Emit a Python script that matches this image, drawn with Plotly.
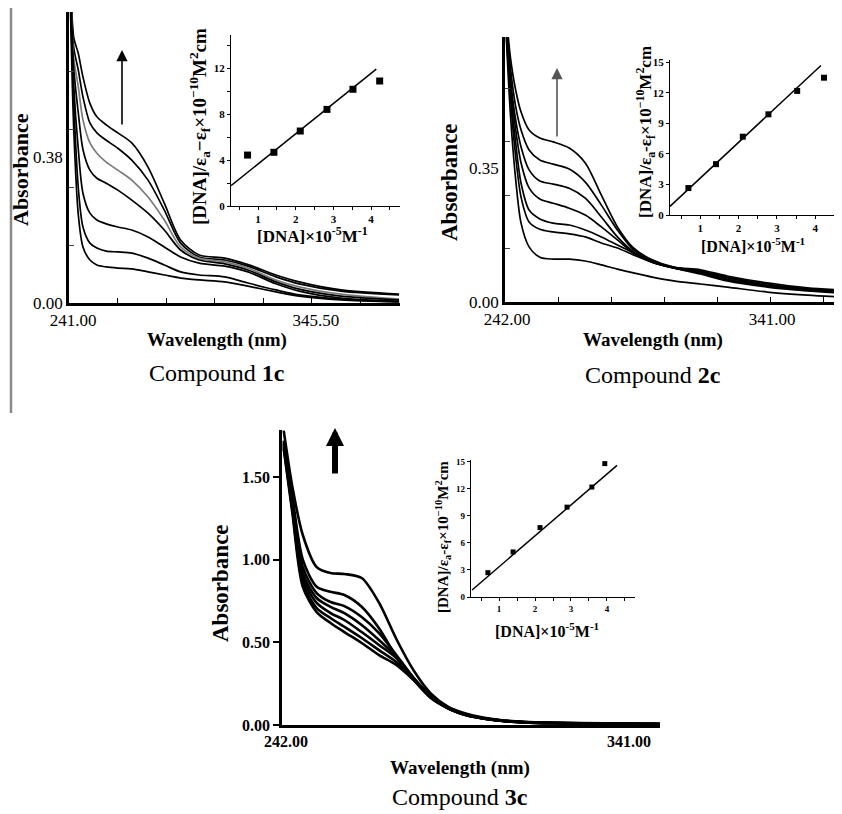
# UV-vis absorption titration spectra of compounds 1c, 2c, 3c with DNA,
# each with an inset of [DNA]/(ea-ef) against [DNA]
import plotly.graph_objects as go

W, H = 842, 814
OFF = 8  # the page body adds an 8px margin around the figure
SERIF = "Liberation Serif"

# ---- Compound 1c ----
wl_1c = [241.5, 243, 245, 247, 250, 253, 257, 262, 268, 275, 282, 289, 297, 308, 318, 330, 340, 358, 383]
abs_1c = [
    [0.92, 0.693, 0.65, 0.589, 0.52, 0.485, 0.464, 0.443, 0.417, 0.354, 0.26, 0.164, 0.125, 0.117, 0.10, 0.073, 0.055, 0.034, 0.023],
    [0.90, 0.667, 0.607, 0.537, 0.469, 0.443, 0.424, 0.403, 0.372, 0.32, 0.242, 0.156, 0.12, 0.112, 0.096, 0.068, 0.05, 0.031, 0.021],
    [0.88, 0.64, 0.563, 0.477, 0.417, 0.39, 0.367, 0.346, 0.32, 0.276, 0.216, 0.146, 0.117, 0.107, 0.091, 0.06, 0.042, 0.023, 0.01],
    [0.86, 0.615, 0.495, 0.40, 0.346, 0.325, 0.312, 0.294, 0.268, 0.234, 0.19, 0.138, 0.112, 0.102, 0.086, 0.055, 0.036, 0.018, 0.008],
    [0.84, 0.57, 0.40, 0.286, 0.234, 0.216, 0.206, 0.198, 0.19, 0.172, 0.146, 0.12, 0.104, 0.096, 0.081, 0.05, 0.031, 0.013, 0.005],
    [0.82, 0.53, 0.30, 0.198, 0.156, 0.143, 0.135, 0.133, 0.13, 0.117, 0.099, 0.081, 0.073, 0.068, 0.052, 0.034, 0.021, 0.01, 0.003],
    [0.80, 0.46, 0.23, 0.146, 0.112, 0.099, 0.094, 0.091, 0.089, 0.081, 0.073, 0.065, 0.06, 0.055, 0.044, 0.029, 0.018, 0.008, 0.003],
]
colors_1c = ["black", "black", "#7a7a7a", "black", "black", "black", "black"]
conc_1c = [0.72, 1.42, 2.12, 2.83, 3.52, 4.23]
ratio_1c = [4.43, 4.67, 6.52, 8.4, 10.15, 10.87]
fit_1c_x = [0.28, 4.14]
fit_1c_y = [1.77, 11.9]

# ---- Compound 2c ----
wl_2c = [242.5, 244, 246, 248, 251, 255, 260, 266, 272, 278, 284, 290, 297, 305, 315, 325, 340, 355, 368]
abs_2c = [
    [0.75, 0.64, 0.553, 0.496, 0.449, 0.428, 0.418, 0.402, 0.363, 0.279, 0.196, 0.141, 0.110, 0.091, 0.084, 0.068, 0.05, 0.037, 0.031],
    [0.74, 0.614, 0.51, 0.449, 0.397, 0.371, 0.36, 0.347, 0.313, 0.253, 0.188, 0.136, 0.107, 0.091, 0.081, 0.065, 0.047, 0.034, 0.029],
    [0.73, 0.587, 0.475, 0.405, 0.345, 0.316, 0.308, 0.297, 0.271, 0.222, 0.17, 0.131, 0.104, 0.089, 0.078, 0.063, 0.044, 0.034, 0.029],
    [0.72, 0.571, 0.449, 0.363, 0.298, 0.269, 0.258, 0.245, 0.227, 0.196, 0.162, 0.128, 0.104, 0.089, 0.078, 0.06, 0.042, 0.031, 0.026],
    [0.71, 0.553, 0.415, 0.31, 0.24, 0.217, 0.206, 0.201, 0.188, 0.17, 0.149, 0.128, 0.104, 0.089, 0.076, 0.057, 0.042, 0.031, 0.026],
    [0.70, 0.535, 0.379, 0.274, 0.209, 0.19, 0.183, 0.178, 0.17, 0.154, 0.141, 0.123, 0.104, 0.089, 0.073, 0.055, 0.039, 0.029, 0.023],
    [0.69, 0.493, 0.319, 0.206, 0.144, 0.117, 0.112, 0.112, 0.107, 0.097, 0.086, 0.076, 0.065, 0.055, 0.047, 0.039, 0.026, 0.018, 0.013],
]
conc_2c = [0.69, 1.41, 2.11, 2.78, 3.53, 4.23]
ratio_2c = [2.65, 5.0, 7.7, 9.9, 12.2, 13.5]
fit_2c_x = [0.21, 4.15]
fit_2c_y = [0.85, 14.7]

# ---- Compound 3c ----
wl_3c = [242.5, 245, 248, 252, 256, 260, 265, 270, 275, 280, 285, 290, 295, 300, 305, 312, 320, 335, 351]
abs_3c = [
    [1.78, 1.44, 1.149, 0.955, 0.919, 0.913, 0.889, 0.74, 0.52, 0.33, 0.19, 0.11, 0.07, 0.045, 0.03, 0.02, 0.015, 0.01, 0.008],
    [1.72, 1.38, 1.0, 0.836, 0.806, 0.786, 0.715, 0.585, 0.413, 0.272, 0.163, 0.103, 0.065, 0.042, 0.028, 0.018, 0.013, 0.008, 0.006],
    [1.71, 1.36, 0.955, 0.798, 0.744, 0.719, 0.653, 0.556, 0.423, 0.284, 0.163, 0.1, 0.063, 0.04, 0.027, 0.017, 0.012, 0.008, 0.006],
    [1.70, 1.34, 0.918, 0.768, 0.715, 0.676, 0.605, 0.514, 0.413, 0.284, 0.169, 0.1, 0.062, 0.04, 0.027, 0.017, 0.012, 0.008, 0.006],
    [1.69, 1.32, 0.889, 0.738, 0.677, 0.635, 0.562, 0.484, 0.405, 0.284, 0.175, 0.1, 0.06, 0.04, 0.026, 0.016, 0.012, 0.008, 0.006],
    [1.68, 1.30, 0.859, 0.707, 0.647, 0.594, 0.526, 0.453, 0.381, 0.278, 0.175, 0.1, 0.06, 0.04, 0.026, 0.016, 0.011, 0.008, 0.006],
    [1.67, 1.28, 0.836, 0.683, 0.617, 0.562, 0.496, 0.423, 0.363, 0.272, 0.175, 0.1, 0.06, 0.04, 0.026, 0.016, 0.011, 0.008, 0.006],
]
conc_3c = [0.69, 1.39, 2.14, 2.89, 3.58, 3.94]
ratio_3c = [2.7, 5.0, 7.7, 9.97, 12.2, 14.8]
fit_3c_x = [0.25, 4.28]
fit_3c_y = [0.78, 14.6]


def px(x):
    return (x - OFF) / W


def py(y):
    return 1 - (y - OFF) / H


fig = go.Figure()

# spectra
for curve, col in zip(abs_1c, colors_1c):
    fig.add_trace(go.Scatter(x=wl_1c, y=curve, mode="lines", xaxis="x", yaxis="y",
                             line=dict(color=col, width=1.7, shape="spline", smoothing=0.8)))
for curve in abs_2c:
    fig.add_trace(go.Scatter(x=wl_2c, y=curve, mode="lines", xaxis="x3", yaxis="y3",
                             line=dict(color="black", width=1.7, shape="spline", smoothing=0.8)))
for curve in abs_3c:
    fig.add_trace(go.Scatter(x=wl_3c, y=curve, mode="lines", xaxis="x5", yaxis="y5",
                             line=dict(color="black", width=2.6, shape="spline", smoothing=0.8)))

# insets
for cx, cy, fx, fy, xa, ya, ms in [(conc_1c, ratio_1c, fit_1c_x, fit_1c_y, "x2", "y2", 7),
                                   (conc_2c, ratio_2c, fit_2c_x, fit_2c_y, "x4", "y4", 6),
                                   (conc_3c, ratio_3c, fit_3c_x, fit_3c_y, "x6", "y6", 5)]:
    fig.add_trace(go.Scatter(x=fx, y=fy, mode="lines", xaxis=xa, yaxis=ya,
                             line=dict(color="black", width=1.5)))
    fig.add_trace(go.Scatter(x=cx, y=cy, mode="markers", xaxis=xa, yaxis=ya,
                             marker=dict(symbol="square", size=ms, color="black")))

main_font = dict(family=SERIF, size=17, color="black")
ins_font = dict(family=SERIF, size=11, color="black", weight="bold")

main_ax = dict(showline=True, linecolor="black", linewidth=2.5, showgrid=False,
               zeroline=False, tickfont=main_font, automargin=False, tickcolor="black")
ins_ax = dict(showline=True, linecolor="black", linewidth=1.3, showgrid=False,
              zeroline=False, tickfont=ins_font, ticks="outside", ticklen=3,
              tickwidth=1, tickcolor="black", automargin=False)

fig.update_layout(
    template="none",
    width=W, height=H,
    margin=dict(l=0, r=0, t=0, b=0),
    paper_bgcolor="white", plot_bgcolor="rgba(0,0,0,0)",
    showlegend=False,
    # 1c main
    xaxis=dict(main_ax, domain=[px(69), px(400)], range=[241, 383.4], anchor="y",
               tickvals=[241, 345.5], ticktext=["241.00", "345.50"], ticklabelshift=4,
               ticks="inside", ticklen=5, tickwidth=1.2,
               minor=dict(tick0=241, dtick=20.9, ticks="inside", ticklen=5, tickwidth=1.2)),
    yaxis=dict(main_ax, domain=[py(303), py(12)], range=[0, 0.758], anchor="x",
               tickvals=[0, 0.38], ticktext=["0.00", "0.38"], ticks="",
               minor=dict(tickvals=[0.151, 0.302, 0.453, 0.604], ticks="inside",
                          ticklen=5, tickwidth=1.2)),
    # 1c inset
    xaxis2=dict(ins_ax, domain=[px(231), px(400)], range=[0.28, 4.77], anchor="y2",
                tickvals=[1, 2, 3, 4], minor=dict(dtick=0.5, ticks="outside", ticklen=3)),
    yaxis2=dict(ins_ax, domain=[py(206), py(35)], range=[0, 14.87], anchor="x2",
                tickvals=[0, 4, 8, 12], minor=dict(dtick=2, ticks="outside", ticklen=3)),
    # 2c main
    xaxis3=dict(main_ax, domain=[px(505), px(842)], range=[242, 367.9], anchor="y3",
                tickvals=[242, 341], ticktext=["242.00", "341.00"], ticklabelshift=2,
                ticks="inside", ticklen=5, tickwidth=1.2,
                minor=dict(tick0=242, dtick=19.8, ticks="inside", ticklen=5, tickwidth=1.2)),
    yaxis3=dict(main_ax, domain=[py(302), py(37)], range=[0, 0.692], anchor="x3",
                tickvals=[0, 0.35], ticktext=["0.00", "0.35"], ticks="",
                minor=dict(tickvals=[0.141, 0.279, 0.418, 0.557], ticks="inside",
                           ticklen=5, tickwidth=1.2)),
    # 2c inset
    xaxis4=dict(ins_ax, domain=[px(670), px(842)], range=[0.21, 4.7], anchor="y4",
                tickvals=[1, 2, 3, 4], minor=dict(dtick=0.5, ticks="outside", ticklen=3)),
    yaxis4=dict(ins_ax, domain=[py(215), py(60)], range=[0, 15.24], anchor="x4",
                tickvals=[0, 3, 6, 9, 12, 15]),
    # 3c main
    xaxis5=dict(main_ax, domain=[px(282), px(660)], range=[242, 351.1], anchor="y5",
                tickvals=[242, 341], ticktext=["242.00", "341.00"], ticks="",
                ticklabelshift=4, tickfont=dict(main_font, size=16, weight="bold")),
    yaxis5=dict(main_ax, domain=[py(725), py(430)], range=[0, 1.784], anchor="x5",
                tickvals=[0, 0.5, 1.0, 1.5], ticktext=["0.00", "0.50", "1.00", "1.50"],
                ticks="outside", ticklen=6, tickwidth=2,
                tickfont=dict(main_font, size=16, weight="bold")),
    # 3c inset
    xaxis6=dict(ins_ax, domain=[px(471), px(635)], range=[0.22, 4.78], anchor="y6",
                tickvals=[1, 2, 3, 4], tickfont=dict(ins_font, size=9),
                minor=dict(dtick=0.5, ticks="outside", ticklen=3)),
    yaxis6=dict(ins_ax, domain=[py(597), py(460)], range=[0, 15.2], anchor="x6",
                tickvals=[0, 3, 6, 9, 12, 15], tickfont=dict(ins_font, size=9)),
)


def label(x, y, text, size, angle=0, bold=True):
    fig.add_annotation(x=px(x), y=py(y), xref="paper", yref="paper", showarrow=False,
                       text=f"<b>{text}</b>" if bold else text, textangle=angle,
                       font=dict(family=SERIF, size=size, color="black"),
                       xanchor="center", yanchor="middle")


ratio_1 = "[DNA]/ε<sub>a</sub>−ε<sub>f</sub>×10<sup>−10</sup>M<sup>2</sup>cm"
ratio_2 = "[DNA]/ε<sub>a</sub>-ε<sub>f</sub>×10<sup>−10</sup>M<sup>2</sup>cm"
dna_x = "[DNA]×10<sup>-5</sup>M<sup>-1</sup>"

# panel 1c
label(20, 170, "Absorbance", 22, -90)
label(217, 340, "Wavelength (nm)", 19)
label(217, 373, "Compound <b>1c</b>", 24, bold=False)
label(200, 127, ratio_1, 19, -90)
label(312, 235, dna_x, 17)
# panel 2c
label(450, 182, "Absorbance", 23, -90)
label(653, 340, "Wavelength (nm)", 19)
label(653, 375, "Compound <b>2c</b>", 24, bold=False)
label(645, 132, ratio_2, 17, -90)
label(753, 245, dna_x, 16)
# panel 3c
label(220, 583, "Absorbance", 23, -90)
label(460, 768, "Wavelength (nm)", 19)
label(460, 797, "Compound <b>3c</b>", 24, bold=False)
label(443, 537, ratio_2, 15, -90)
label(547, 630, dna_x, 16)

# arrows showing increasing DNA concentration
for hx, hy, tail, col, wid, size in [(122, 50, 76, "black", 1.6, 1.4),
                                     (557, 68, 70, "#555555", 1.6, 1.4),
                                     (335, 428, 47, "black", 6, 0.6)]:
    fig.add_annotation(x=px(hx), y=py(hy), xref="paper", yref="paper", text="",
                       showarrow=True, ax=0, ay=tail, arrowhead=2, arrowsize=size,
                       arrowwidth=wid, arrowcolor=col)

# grey page rule at the left
fig.add_shape(type="line", xref="paper", yref="paper", x0=px(11), x1=px(11),
              y0=1, y1=py(413), line=dict(color="#8a8a8a", width=2.5))

fig.write_html("out.html")
